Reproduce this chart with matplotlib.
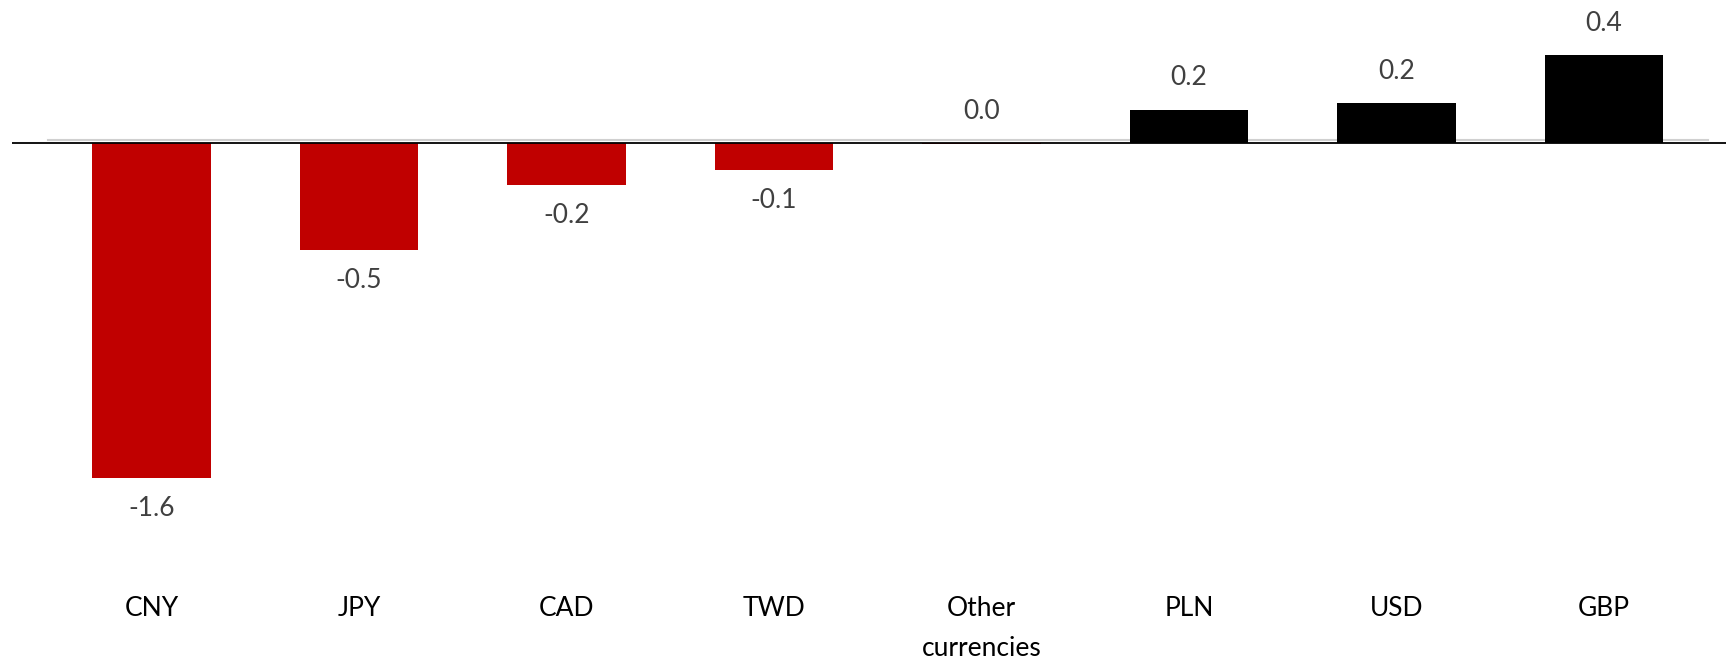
import matplotlib
matplotlib.use('Agg')
import matplotlib.pyplot as plt
import matplotlib.transforms as mtransforms
import numpy as np

# Contribution by currency (percentage points)
currencies = ['CNY', 'JPY', 'CAD', 'TWD', 'Other\ncurrencies', 'PLN', 'USD', 'GBP']
values = [-1.60, -0.51, -0.20, -0.13, -0.003, 0.16, 0.19, 0.42]

RED = '#c00000'
LABEL_GREY = '#404040'

plt.rcParams['font.family'] = ['Lato', 'DejaVu Sans']

fig = plt.figure(figsize=(17.26, 6.62), dpi=100)
ax = fig.add_axes([12 / 1726, 122 / 662, 1714 / 1726, 520 / 662])

x = np.arange(len(currencies))
colors = [RED if v < 0 else 'black' for v in values]
ax.bar(x, values, width=0.57, color=colors, zorder=2)

# zero line: black rule across the plot, light grey axis line just above it
ax.axhline(0, color='black', lw=1.3, zorder=3)
shift = mtransforms.ScaledTranslation(0, 1.8 / 72, fig.dpi_scale_trans)
ax.plot([-0.5, 7.5], [0, 0], color='#d0d0d0', lw=1.5, zorder=1,
        transform=ax.transData + shift)

for xi, v in zip(x, values):
    txt = f"{round(v, 1) + 0:.1f}"
    above = round(v, 1) >= 0
    ax.annotate(txt, (xi, v), xytext=(0, 23 if above else -22),
                textcoords='offset points', ha='center', va='center',
                fontsize=19, color=LABEL_GREY)

ax.set_xlim(-0.672, 7.588)
ax.set_ylim(-1.898, 0.588)
ax.set_xticks(x)
ax.set_xticklabels(currencies, fontsize=19, color='black', linespacing=1.75,
                   va='top')
ax.tick_params(axis='x', length=0, pad=40)
ax.set_yticks([])
for s in ax.spines.values():
    s.set_visible(False)

fig.savefig('out.png', dpi=100)
